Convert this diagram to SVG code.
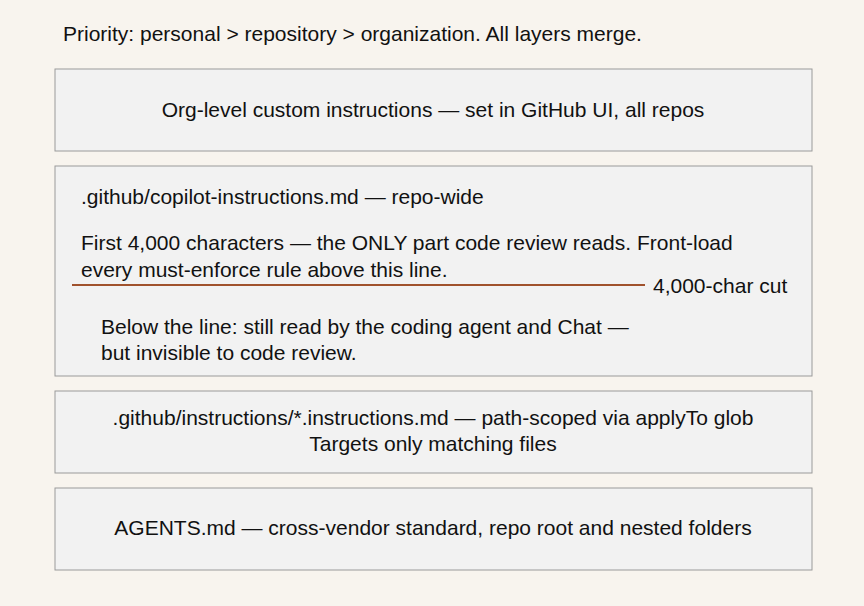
<svg xmlns="http://www.w3.org/2000/svg" width="864" height="606" viewBox="0 0 864 606">
<style>
text{font-family:"Liberation Sans",Arial,sans-serif;font-size:21px;fill:#111}
.box{fill:#f2f2f2;stroke:#9a9a9a;stroke-width:1}
.c{text-anchor:middle}
</style>
<rect width="864" height="606" fill="#f8f4ee"/>
<text x="63" y="41">Priority: personal &gt; repository &gt; organization. All layers merge.</text>
<g id="org"><rect class="box" x="55" y="69" width="757" height="82"/>
<text class="c" x="433" y="117">Org-level custom instructions — set in GitHub UI, all repos</text></g>
<g id="repo"><rect class="box" x="55" y="166" width="757" height="210"/>
<text x="81" y="204">.github/copilot-instructions.md — repo-wide</text>
<text x="81" y="250">First 4,000 characters — the ONLY part code review reads. Front-load</text>
<text x="81" y="277">every must-enforce rule above this line.</text>
<text x="101" y="334">Below the line: still read by the coding agent and Chat —</text>
<text x="101" y="360">but invisible to code review.</text></g>
<g id="connectors"><line x1="72" y1="285" x2="645" y2="285" stroke="#a0522d" stroke-width="2"/></g>
<text x="653" y="293">4,000-char cut</text>
<g id="path"><rect class="box" x="55" y="391" width="757" height="82"/>
<text class="c" x="433" y="425">.github/instructions/*.instructions.md — path-scoped via applyTo glob</text>
<text class="c" x="433" y="451">Targets only matching files</text></g>
<g id="agents"><rect class="box" x="55" y="488" width="757" height="82"/>
<text class="c" x="433" y="535">AGENTS.md — cross-vendor standard, repo root and nested folders</text></g>
</svg>
